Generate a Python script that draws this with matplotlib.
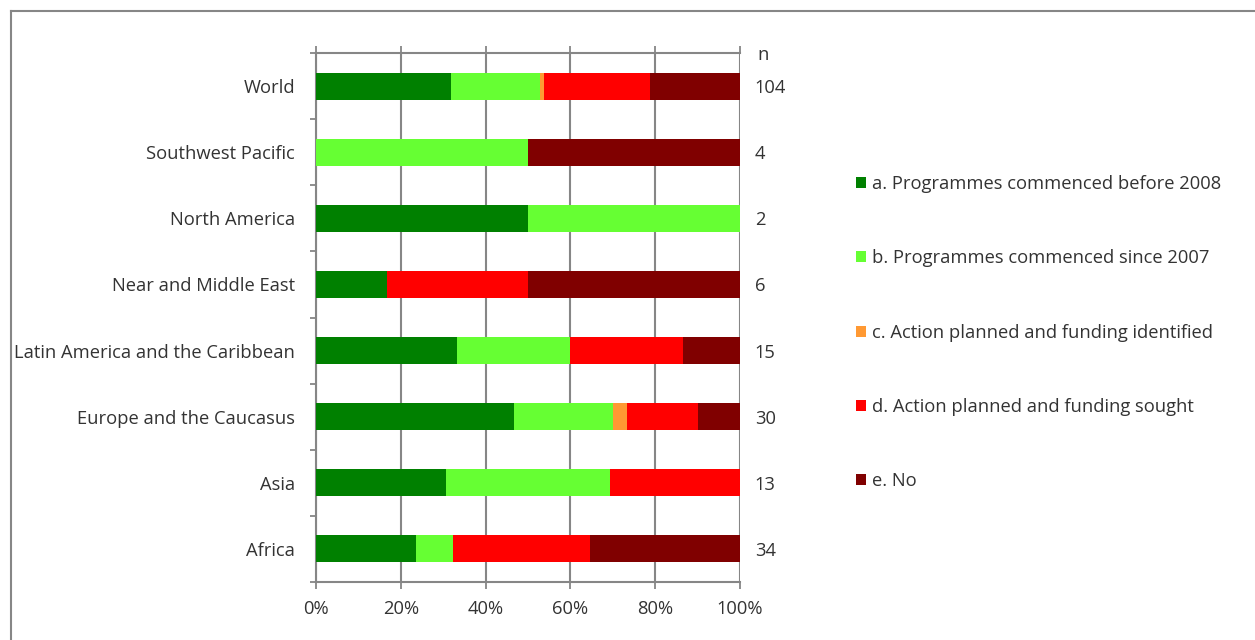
import matplotlib
matplotlib.use("Agg")
import matplotlib.pyplot as plt
from matplotlib.lines import Line2D
import numpy as np

plt.rcParams['font.family'] = ['Open Sans', 'DejaVu Sans']

categories = ["Africa", "Asia", "Europe and the Caucasus", "Latin America and the Caribbean",
              "Near and Middle East", "North America", "Southwest Pacific", "World"]
n_values = [34, 13, 30, 15, 6, 2, 4, 104]
a_counts = [8, 4, 14, 5, 1, 1, 0, 33]
b_counts = [3, 5, 7, 4, 0, 1, 2, 22]
c_counts = [0, 0, 1, 0, 0, 0, 0, 1]
d_counts = [11, 4, 5, 4, 2, 0, 0, 26]
e_counts = [12, 0, 3, 2, 3, 0, 2, 22]
series_labels = ["a. Programmes commenced before 2008",
                 "b. Programmes commenced since 2007",
                 "c. Action planned and funding identified",
                 "d. Action planned and funding sought",
                 "e. No"]
series_colors = ["#008000", "#66FF33", "#FF9933", "#FF0000", "#800000"]
x_ticks = [0, 0.2, 0.4, 0.6, 0.8, 1.0]
x_ticklabels = ["0%", "20%", "40%", "60%", "80%", "100%"]

TXT = "#333333"
GRID = "#868686"
FS = 13.2

fig = plt.figure(figsize=(12.55, 6.4), dpi=100)
ax = fig.add_axes([316/1255, 58/640, 424/1255, 529/640])

y = np.arange(len(categories))
n_arr = np.array(n_values, dtype=float)
left = np.zeros(len(categories))
handles = []
for counts, lab, col in zip([a_counts, b_counts, c_counts, d_counts, e_counts], series_labels, series_colors):
    frac = np.array(counts) / n_arr
    h = ax.barh(y, frac, left=left, height=0.41, color=col, label=lab, zorder=3)
    handles.append(h)
    left += frac

ax.set_xlim(0, 1)
ax.set_ylim(-0.5, len(categories) - 0.5)
ax.set_xticks(x_ticks)
ax.set_xticklabels(x_ticklabels, fontsize=FS, color=TXT)
ax.set_yticks(y)
ax.set_yticklabels(categories, fontsize=FS, color=TXT)
ax.set_yticks(np.arange(-0.5, len(categories)), minor=True)
ax.tick_params(axis='y', which='major', length=0, pad=15)
ax.tick_params(axis='y', which='minor', length=4, width=1.3, color=GRID, direction='out')
ax.tick_params(axis='x', which='major', length=5, width=1.3, color=GRID, direction='out',
               top=True, bottom=True, pad=8)
ax.grid(axis='x', color=GRID, linewidth=1.5, zorder=0)
for s in ax.spines.values():
    s.set_color(GRID)
    s.set_linewidth(1.5)
ax.spines['right'].set_visible(False)

NX = 1.035
ax.text(NX + 0.005, len(categories) - 0.5, "n", fontsize=FS, color=TXT, ha='left',
        va='center_baseline', clip_on=False)
for yi, nv in zip(y, n_values):
    ax.text(NX, yi, str(nv), fontsize=FS, color=TXT, ha='left', va='center_baseline', clip_on=False)

leg = fig.legend(handles=handles, labels=series_labels, loc='upper left',
                 bbox_to_anchor=(856/1255, 1 - 175/640), frameon=False, fontsize=FS,
                 handlelength=0.55, handleheight=0.55, handletextpad=0.35,
                 labelspacing=3.07, borderpad=0, borderaxespad=0)
for t in leg.get_texts():
    t.set_color(TXT)

# outer frame
fig.add_artist(Line2D([10.5/1255, 10.5/1255], [0, 1 - 10.5/640], transform=fig.transFigure,
                      color=GRID, linewidth=1.5))
fig.add_artist(Line2D([10.5/1255, 1], [1 - 10.5/640, 1 - 10.5/640], transform=fig.transFigure,
                      color=GRID, linewidth=1.5))

fig.savefig("out.png", dpi=100, facecolor="white")
